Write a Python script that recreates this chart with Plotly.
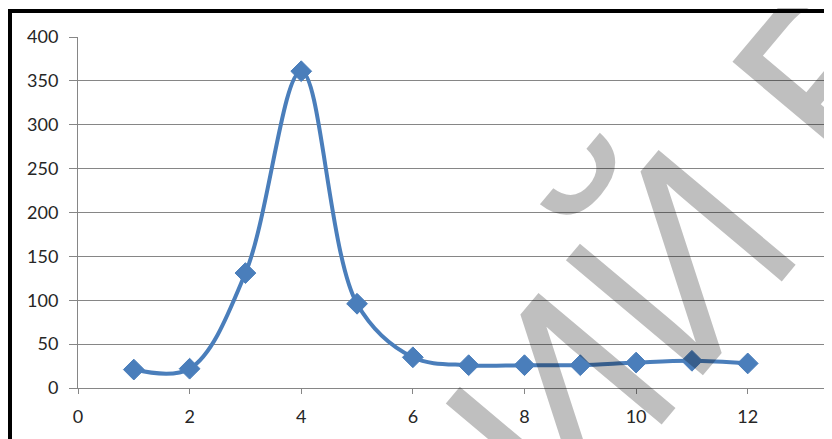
import plotly.graph_objects as go

x_vals = [1, 2, 3, 4, 5, 6, 7, 8, 9, 10, 11, 12]
y_vals = [21, 22, 131, 361, 96, 35, 26, 26, 26, 29, 31, 28]
x_ticks = [0, 2, 4, 6, 8, 10, 12, 14]
y_ticks = [0, 50, 100, 150, 200, 250, 300, 350, 400]
watermark = "РЕПОЗИТОРИЙ ВГУ"

# page body has an 8px default margin, so the figure is offset by 8px
OFF = 8
W, H = 832 - OFF, 439 - OFF
left, top, bottom = 78 - OFF, 37 - OFF, 439 - 388
plot_w = W - left
plot_h = H - top - bottom


def px(xs):
    return (xs - OFF - left) / plot_w


def py(ys):
    return (H - bottom - (ys - OFF)) / plot_h


fig = go.Figure()
fig.add_trace(go.Scatter(
    x=x_vals, y=y_vals, mode="lines+markers",
    line=dict(color="#4a7ebb", width=4, shape="spline", smoothing=1.0),
    marker=dict(symbol="diamond", size=16, color="#4a7ebb",
                line=dict(color="#4a7ebb", width=1)),
    showlegend=False, cliponaxis=False,
))

axis_font = dict(family="Lato, Carlito, sans-serif", size=18, color="#262626")
fig.update_xaxes(
    range=[0, 13.51], tickvals=x_ticks, showgrid=False, zeroline=False,
    showline=True, linecolor="#868686", linewidth=1,
    ticks="outside", ticklen=5, tickcolor="#868686", tickfont=axis_font,
    ticklabelstandoff=7, automargin=False,
)
fig.update_yaxes(
    range=[0, 400], tickvals=y_ticks, showgrid=True, gridcolor="#868686",
    gridwidth=1, zeroline=False, showline=True, linecolor="#868686",
    linewidth=1, ticks="outside", ticklen=8, tickcolor="#868686",
    tickfont=axis_font, ticklabelstandoff=7, automargin=False,
)

fig.update_layout(
    width=W, height=H,
    margin=dict(l=left, r=0, t=top, b=bottom, pad=0),
    paper_bgcolor="white", plot_bgcolor="white",
)

# outer frame (left and top edges visible)
fig.add_shape(type="line", xref="paper", yref="paper",
              x0=px(10), x1=px(10), y0=py(445), y1=py(9),
              line=dict(color="black", width=4))
fig.add_shape(type="line", xref="paper", yref="paper",
              x0=px(8), x1=px(840), y0=py(11), y1=py(11),
              line=dict(color="black", width=4))

# diagonal watermark
fig.add_annotation(
    text=watermark, xref="paper", yref="paper",
    x=px(282), y=py(736),
    showarrow=False, textangle=-50,
    font=dict(family="Liberation Sans, Arial, sans-serif", size=260,
              color="rgba(0,0,0,0.25)"),
    xanchor="center", yanchor="middle",
)

fig.write_html("out.html")
